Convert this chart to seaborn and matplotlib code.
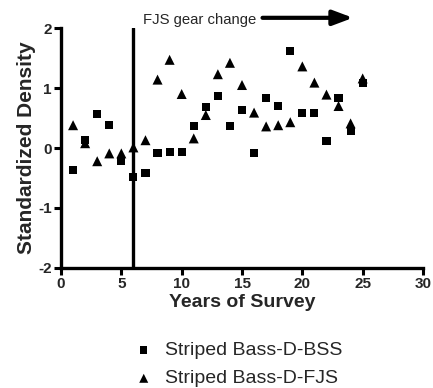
import matplotlib
matplotlib.use("Agg")
import matplotlib.pyplot as plt
import seaborn as sns
import pandas as pd

years = list(range(1, 26))
bss = [-0.36, 0.13, 0.57, 0.38, -0.22, -0.49, -0.41, -0.09, -0.07, -0.06,
       0.36, 0.68, 0.86, 0.36, 0.63, -0.08, 0.83, 0.70, 1.62, 0.59,
       0.59, 0.11, 0.84, 0.28, 1.09]
fjs = [0.38, 0.08, -0.22, -0.09, -0.09, 0.01, 0.13, 1.14, 1.47, 0.90,
       0.16, 0.55, 1.23, 1.42, 1.05, 0.59, 0.36, 0.38, 0.43, 1.36,
       1.09, 0.89, 0.70, 0.41, 1.16]
series_names = ["Striped Bass-D-BSS", "Striped Bass-D-FJS"]
gear_change_year = 6
xticks = [0, 5, 10, 15, 20, 25, 30]
yticks = [-2, -1, 0, 1, 2]

sns.set_style("ticks")
plt.rcParams['font.family'] = ['Liberation Sans', 'DejaVu Sans']
plt.rcParams['axes.unicode_minus'] = False

df_bss = pd.DataFrame({"Year": years, "Density": bss})
df_fjs = pd.DataFrame({"Year": years, "Density": fjs})

fig = plt.figure(figsize=(4.33, 3.88), dpi=100)
ax = fig.add_axes([0.1409, 0.3093, 0.836, 0.6185])

sns.scatterplot(data=df_bss, x="Year", y="Density", marker="s", color="black",
                s=34, edgecolor="none", ax=ax, label=series_names[0],
                clip_on=False, zorder=3)
sns.scatterplot(data=df_fjs, x="Year", y="Density", marker="^", color="black",
                s=52, edgecolor="none", ax=ax, label=series_names[1],
                clip_on=False, zorder=3)

ax.axvline(gear_change_year, ymin=0, ymax=1, color="black", lw=2.4, zorder=2)

ax.set_xlim(0, 30)
ax.set_ylim(-2, 2)
ax.set_xticks(xticks)
ax.set_yticks(yticks)
for lab in ax.get_xticklabels() + ax.get_yticklabels():
    lab.set_fontweight("bold")
    lab.set_fontsize(11)
ax.tick_params(width=2.2, length=5, direction="out", pad=1.5, color="black")
for sp in ["left", "bottom"]:
    ax.spines[sp].set_linewidth(2.4)
    ax.spines[sp].set_color("black")
sns.despine(ax=ax)

ax.set_xlabel("Years of Survey", fontsize=14, fontweight="bold", labelpad=2)
ax.set_ylabel("Standardized Density", fontsize=15, fontweight="bold", labelpad=2)

ax.text(6.8, 2.13, "FJS gear change", fontsize=10.7, va="center", ha="left",
        clip_on=False)
ax.annotate("", xy=(24.2, 2.17), xytext=(16.7, 2.17),
            arrowprops=dict(arrowstyle="-|>,head_length=1.2,head_width=0.45",
                            color="black", lw=3, shrinkA=0, shrinkB=0),
            annotation_clip=False)

handles, labels = ax.get_legend_handles_labels()
if ax.get_legend() is not None:
    ax.get_legend().remove()
fig.legend(handles, labels, loc="upper center",
           bbox_to_anchor=(0.548, 0.155), frameon=False, fontsize=14,
           handletextpad=0.5, labelspacing=0.55, markerscale=0.9,
           handlelength=1.2, borderpad=0.2)

fig.savefig("out.png", dpi=100)
